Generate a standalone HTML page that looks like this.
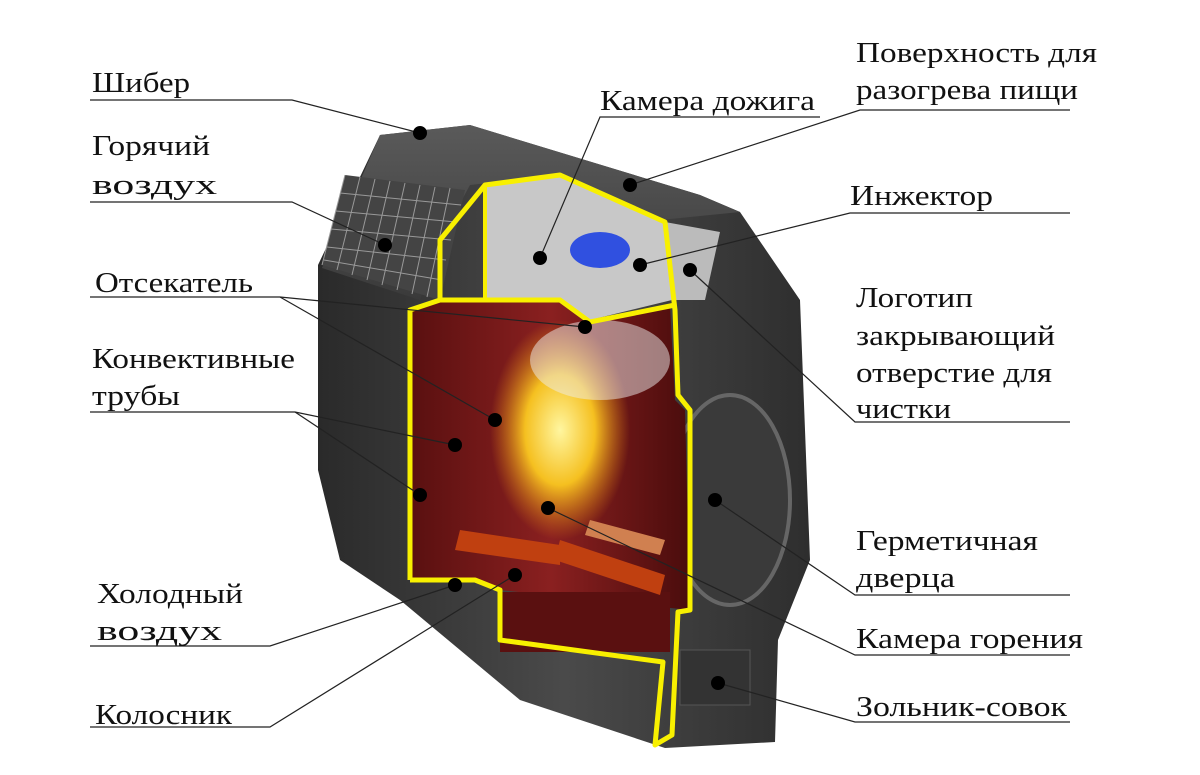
<!DOCTYPE html>
<html><head><meta charset="utf-8">
<style>
html,body{margin:0;padding:0;background:#fff;}
svg{display:block;}
text{font-family:"Liberation Serif","DejaVu Serif",serif;font-size:29px;fill:#111;}
</style></head>
<body>
<svg width="1200" height="775" viewBox="0 0 1200 775" xmlns="http://www.w3.org/2000/svg">
<defs>
<linearGradient id="body" x1="0" y1="0" x2="1" y2="0">
<stop offset="0" stop-color="#2a2a2a"/><stop offset="0.5" stop-color="#4a4a4a"/><stop offset="1" stop-color="#2e2e2e"/>
</linearGradient>
<linearGradient id="red" x1="0" y1="0" x2="1" y2="0">
<stop offset="0" stop-color="#5a1010"/><stop offset="0.5" stop-color="#8a2020"/><stop offset="1" stop-color="#4a0c0c"/>
</linearGradient>
<radialGradient id="fire" cx="0.5" cy="0.5" r="0.5">
<stop offset="0" stop-color="#fff6a0"/><stop offset="0.5" stop-color="#f5c020"/><stop offset="1" stop-color="#e08010" stop-opacity="0"/>
</radialGradient>
<linearGradient id="top" x1="0" y1="0" x2="0" y2="1">
<stop offset="0" stop-color="#5a5a5a"/><stop offset="1" stop-color="#3a3a3a"/>
</linearGradient>
</defs>

<polygon points="318,265 380,135 470,125 700,195 740,212 800,300 810,560 778,640 775,742 665,748 520,700 400,600 340,560 318,470" fill="url(#body)"/>
<polygon points="380,135 470,125 700,195 740,212 660,220 560,175 470,185 440,240 420,300 322,268" fill="url(#top)"/>
<polygon points="322,265 345,175 465,190 440,300" fill="#444"/>
<g stroke="#999" stroke-width="1">
<line x1="345" y1="175" x2="322" y2="265"/><line x1="360" y1="177" x2="337" y2="270"/><line x1="375" y1="179" x2="352" y2="275"/><line x1="390" y1="181" x2="367" y2="280"/><line x1="405" y1="183" x2="382" y2="285"/><line x1="420" y1="185" x2="397" y2="290"/><line x1="435" y1="187" x2="412" y2="294"/><line x1="450" y1="188" x2="427" y2="297"/>
<line x1="340" y1="193" x2="461" y2="205"/><line x1="336" y1="211" x2="456" y2="222"/><line x1="331" y1="229" x2="451" y2="240"/><line x1="327" y1="247" x2="446" y2="260"/><line x1="324" y1="260" x2="442" y2="280"/>
</g>
<ellipse cx="730" cy="500" rx="60" ry="105" fill="#3a3a3a" stroke="#666" stroke-width="4"/>
<rect x="680" y="650" width="70" height="55" fill="#333" stroke="#555"/>
<polygon points="665,222 720,232 705,300 672,300" fill="#bbb"/>

<polygon points="412,310 440,300 485,300 560,300 590,320 670,305 675,400 685,410 690,610 500,590 475,578 412,578" fill="url(#red)"/>
<polygon points="485,185 560,175 665,222 672,300 590,320 560,300 485,300" fill="#c8c8c8"/>
<ellipse cx="600" cy="250" rx="30" ry="18" fill="#3050e0"/>
<ellipse cx="560" cy="430" rx="70" ry="110" fill="url(#fire)"/>
<ellipse cx="600" cy="360" rx="70" ry="40" fill="#eee" opacity="0.5"/>
<rect x="500" y="592" width="170" height="60" fill="#5a1010"/>
<polygon points="460,530 560,545 560,565 455,550" fill="#c04010"/>
<polygon points="560,540 665,575 660,595 555,560" fill="#c04010"/>
<polygon points="590,520 665,540 660,555 585,535" fill="#d08050"/>

<polyline fill="none" stroke="#f8f000" stroke-width="5" stroke-linejoin="round"
points="410,580 410,310 440,300 440,240 485,185 560,175 665,222 675,310 678,395 690,410 690,610 678,612 672,735 655,745 663,662 500,640 500,590 475,580 410,580"/>
<polyline fill="none" stroke="#f8f000" stroke-width="5" points="440,300 485,300 560,300 590,322 675,305"/>
<line x1="485" y1="185" x2="485" y2="300" stroke="#f8f000" stroke-width="4"/>

<g fill="none" stroke="#222" stroke-width="1.2">
<polyline points="90,100 292,100 420,133"/>
<polyline points="90,202 292,202 385,245"/>
<polyline points="90,297 280,297 585,327"/>
<polyline points="280,297 495,420"/>
<polyline points="90,412 295,412 455,445"/>
<polyline points="295,412 420,495"/>
<polyline points="90,646 270,646 455,585"/>
<polyline points="90,727 270,727 515,575"/>
<polyline points="1070,110 860,110 630,185"/>
<polyline points="820,117 600,117 540,258"/>
<polyline points="1070,213 850,213 640,265"/>
<polyline points="1070,422 855,422 690,270"/>
<polyline points="1070,595 855,595 715,500"/>
<polyline points="1070,655 855,655 548,508"/>
<polyline points="1070,722 855,722 718,683"/>
</g>
<g fill="#000">
<circle cx="420" cy="133" r="7"/><circle cx="385" cy="245" r="7"/><circle cx="585" cy="327" r="7"/><circle cx="495" cy="420" r="7"/>
<circle cx="455" cy="445" r="7"/><circle cx="420" cy="495" r="7"/><circle cx="455" cy="585" r="7"/><circle cx="515" cy="575" r="7"/>
<circle cx="630" cy="185" r="7"/><circle cx="540" cy="258" r="7"/><circle cx="640" cy="265" r="7"/><circle cx="690" cy="270" r="7"/>
<circle cx="715" cy="500" r="7"/><circle cx="548" cy="508" r="7"/><circle cx="718" cy="683" r="7"/>
</g>

<text x="92" y="92" textLength="98" lengthAdjust="spacingAndGlyphs">Шибер</text>
<text x="92" y="155" textLength="118" lengthAdjust="spacingAndGlyphs">Горячий</text>
<text x="92" y="194" textLength="125" lengthAdjust="spacingAndGlyphs">воздух</text>
<text x="95" y="292" textLength="158" lengthAdjust="spacingAndGlyphs">Отсекатель</text>
<text x="92" y="368" textLength="203" lengthAdjust="spacingAndGlyphs">Конвективные</text>
<text x="92" y="405" textLength="88" lengthAdjust="spacingAndGlyphs">трубы</text>
<text x="97" y="603" textLength="146" lengthAdjust="spacingAndGlyphs">Холодный</text>
<text x="97" y="640" textLength="125" lengthAdjust="spacingAndGlyphs">воздух</text>
<text x="95" y="724" textLength="137" lengthAdjust="spacingAndGlyphs">Колосник</text>

<text x="856" y="62" textLength="241" lengthAdjust="spacingAndGlyphs">Поверхность для</text>
<text x="856" y="99" textLength="222" lengthAdjust="spacingAndGlyphs">разогрева пищи</text>
<text x="600" y="110" textLength="215" lengthAdjust="spacingAndGlyphs">Камера дожига</text>
<text x="850" y="205" textLength="143" lengthAdjust="spacingAndGlyphs">Инжектор</text>
<text x="856" y="307" textLength="117" lengthAdjust="spacingAndGlyphs">Логотип</text>
<text x="856" y="345" textLength="199" lengthAdjust="spacingAndGlyphs">закрывающий</text>
<text x="856" y="382" textLength="196" lengthAdjust="spacingAndGlyphs">отверстие для</text>
<text x="856" y="418" textLength="95" lengthAdjust="spacingAndGlyphs">чистки</text>
<text x="856" y="550" textLength="182" lengthAdjust="spacingAndGlyphs">Герметичная</text>
<text x="856" y="587" textLength="99" lengthAdjust="spacingAndGlyphs">дверца</text>
<text x="856" y="648" textLength="227" lengthAdjust="spacingAndGlyphs">Камера горения</text>
<text x="856" y="716" textLength="211" lengthAdjust="spacingAndGlyphs">Зольник-совок</text>
</svg>
</body></html>
